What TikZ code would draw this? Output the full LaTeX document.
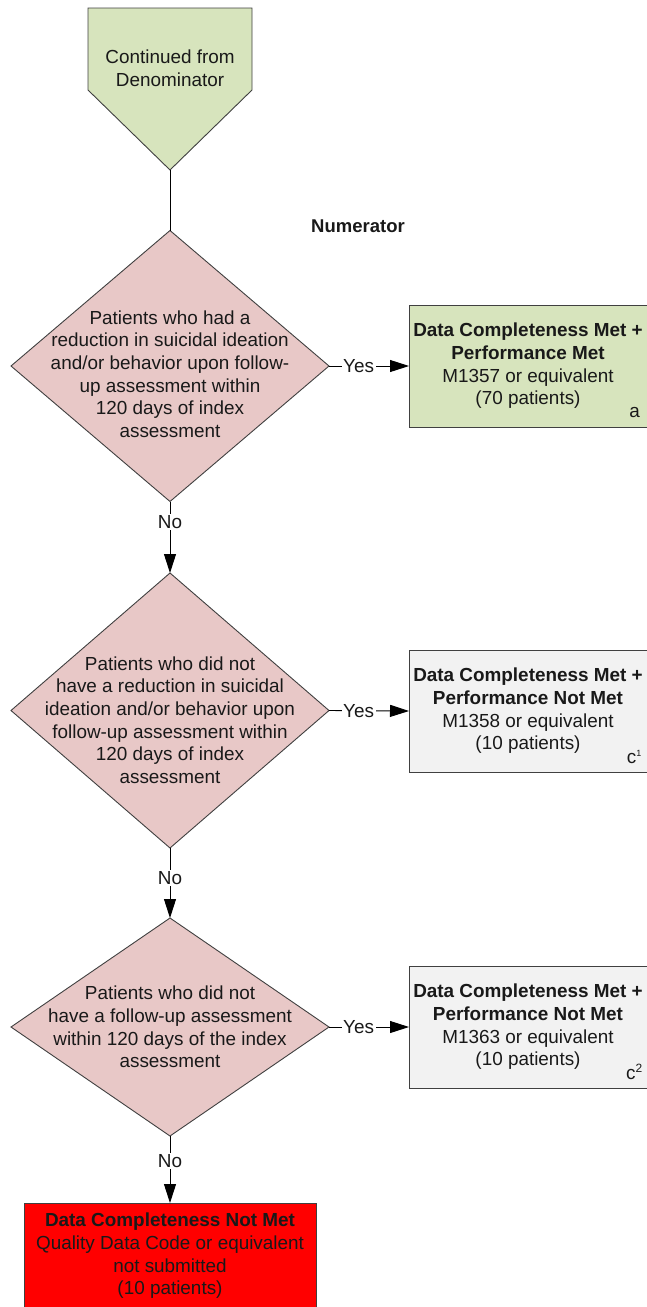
\documentclass[tikz,border=0pt]{standalone}
\usepackage{fontspec}
\setmainfont{Liberation Sans}
\usetikzlibrary{arrows.meta,shapes.geometric}
\definecolor{pgreen}{RGB}{215,228,189}
\definecolor{ppink}{RGB}{232,200,199}
\definecolor{pgray}{RGB}{242,242,242}
\definecolor{bord}{RGB}{64,64,64}
\definecolor{txt}{RGB}{25,25,25}
\begin{document}
\begin{tikzpicture}[x=1pt,y=-1pt,
  every node/.style={font=\fontsize{18.9}{22.7}\selectfont, text=txt},
  dia/.style={shape=diamond, draw=bord, fill=ppink, line width=0.9pt, inner sep=0pt, outer sep=0pt},
  outbox/.style={shape=rectangle, draw=bord, line width=0.9pt, inner sep=0pt, outer sep=0pt, minimum width=239pt, minimum height=122pt},
  lbl/.style={align=center, inner sep=0pt},
  conn/.style={draw=black, line width=0.9pt},
  arr/.style={conn, -{Triangle[length=19pt,width=12pt]}},
  yn/.style={fill=white, inner sep=1.5pt}]
\useasboundingbox (0,0) rectangle (646,1307);
% pentagon
\draw[draw=bord, fill=pgreen, line width=0.9pt] (88,8) -- (252,8) -- (252,90) -- (170,170) -- (88,90) -- cycle;
\coordinate (ptip) at (170,170);
\node[lbl] (ptext) at (170,68) {Continued from\\Denominator};
\node[font=\fontsize{18.5}{22}\selectfont\bfseries] (numer) at (358,226) {Numerator};
% diamonds
\node[dia, minimum width=318pt, minimum height=271pt] (d1) at (170,366) {};
\node[lbl] (t1) at (170,374) {Patients who had a\\reduction in suicidal ideation\\and/or behavior upon follow-\\up assessment within\\120 days of index\\assessment};
\node[dia, minimum width=318pt, minimum height=275pt] (d2) at (170,710.5) {};
\node[lbl] (t2) at (170,720) {Patients who did not\\have a reduction in suicidal\\ideation and/or behavior upon\\follow-up assessment within\\120 days of index\\assessment};
\node[dia, minimum width=318pt, minimum height=218pt] (d3) at (170,1027) {};
\node[lbl] (t3) at (170,1027) {Patients who did not\\have a follow-up assessment\\within 120 days of the index\\assessment};
% outcome boxes
\node[outbox, fill=pgreen] (b1) at (528.5,366) {};
\node[lbl] (b1t) at (528,366) {\textbf{Data Completeness Met +}\\\textbf{Performance Met}\\M1357 or equivalent\\(70 patients)};
\node[anchor=base east, inner sep=0pt] (b1l) at (640,417) {a};
\node[outbox, fill=pgray] (b2) at (528.5,711) {};
\node[lbl] (b2t) at (528,711) {\textbf{Data Completeness Met +}\\\textbf{Performance Not Met}\\M1358 or equivalent\\(10 patients)};
\node[anchor=base east, inner sep=0pt] (b2l) at (642,763) {c\textsuperscript{\fontsize{9}{10}\selectfont 1}};
\node[outbox, fill=pgray] (b3) at (528.5,1027) {};
\node[lbl] (b3t) at (528,1027) {\textbf{Data Completeness Met +}\\\textbf{Performance Not Met}\\M1363 or equivalent\\(10 patients)};
\node[anchor=base east, inner sep=0pt] (b3l) at (643,1079) {c\textsuperscript{\fontsize{12}{12}\selectfont 2}};
\node[shape=rectangle, draw=bord, fill=red, line width=0.9pt, inner sep=0pt, outer sep=0pt, minimum width=292pt, minimum height=110pt] (b4) at (170,1258) {};
\node[lbl] (b4t) at (170,1256) {\textbf{Data Completeness Not Met}\\Quality Data Code or equivalent\\not submitted\\(10 patients)};
% connectors
\draw[conn] (ptip) -- (d1.north);
\draw[arr] (d1.east) -- node[yn, pos=0.37] {Yes} (b1.west);
\draw[arr] (d2.east) -- node[yn, pos=0.37] {Yes} (b2.west);
\draw[arr] (d3.east) -- node[yn, pos=0.37] {Yes} (b3.west);
\draw[arr] (d1.south) -- node[yn, pos=0.29] {No} (d2.north);
\draw[arr] (d2.south) -- node[yn, pos=0.43] {No} (d3.north);
\draw[arr] (d3.south) -- node[yn, pos=0.37] {No} (b4.north);
\end{tikzpicture}
\end{document}
